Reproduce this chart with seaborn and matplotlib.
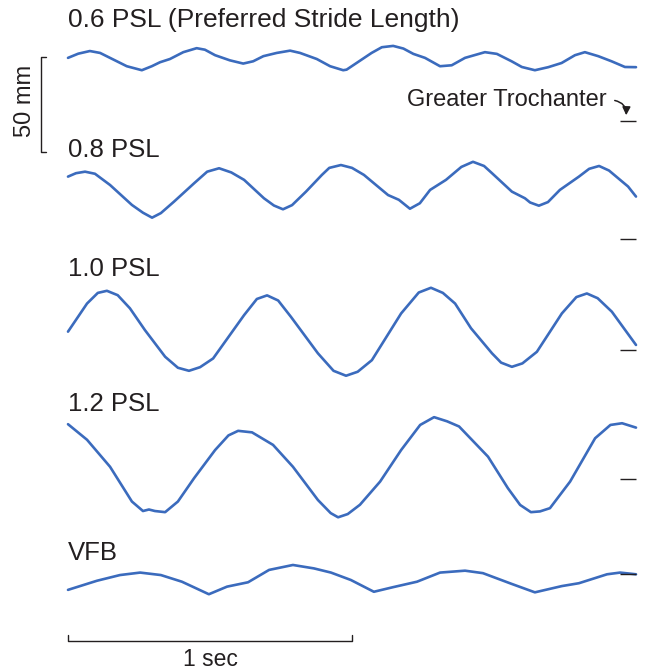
import numpy as np
import pandas as pd
import matplotlib
matplotlib.use("Agg")
import matplotlib.pyplot as plt
import seaborn as sns

# vertical displacement (mm) relative to each trace's reference tick, time in sec
t_06 = [0.0, 0.036, 0.077, 0.113, 0.160, 0.207, 0.260, 0.295, 0.324, 0.359, 0.406,
        0.453, 0.482, 0.518, 0.570, 0.617, 0.652, 0.688, 0.735, 0.782, 0.817, 0.876,
        0.923, 0.969, 0.981, 1.022, 1.069, 1.105, 1.145, 1.181, 1.216, 1.257, 1.310,
        1.351, 1.398, 1.468, 1.510, 1.562, 1.598, 1.644, 1.691, 1.738, 1.785, 1.820,
        1.867, 1.914, 1.961, 2.0]
d_06 = [33.2, 35.4, 36.8, 35.8, 32.3, 28.8, 26.7, 28.8, 30.9, 32.6, 36.2,
        38.3, 37.5, 34.6, 31.9, 30.2, 31.4, 34.1, 35.8, 37.0, 35.8, 32.6,
        28.8, 26.7, 27.0, 31.1, 35.8, 38.8, 39.5, 38.1, 35.3, 33.2, 28.8,
        29.3, 33.2, 36.2, 35.3, 31.4, 28.4, 26.7, 28.3, 30.5, 34.6, 36.2,
        34.1, 31.4, 28.4, 28.3]

t_08 = [0.0, 0.028, 0.060, 0.095, 0.148, 0.225, 0.264, 0.296, 0.327, 0.373, 0.444,
        0.490, 0.532, 0.575, 0.620, 0.690, 0.725, 0.757, 0.789, 0.838, 0.894, 0.920,
        0.961, 1.000, 1.042, 1.127, 1.165, 1.204, 1.239, 1.275, 1.331, 1.385, 1.426,
        1.465, 1.493, 1.563, 1.609, 1.627, 1.658, 1.690, 1.732, 1.799, 1.835, 1.870,
        1.905, 1.944, 1.972, 2.0]
d_08 = [32.8, 34.6, 35.4, 34.3, 28.4, 17.9, 13.8, 11.2, 13.6, 19.6, 29.3,
        35.4, 37.2, 35.0, 31.1, 21.4, 17.6, 15.6, 17.8, 24.9, 33.7, 37.4,
        38.9, 37.4, 33.7, 23.1, 20.6, 15.9, 18.8, 25.8, 31.1, 37.9, 40.6,
        38.4, 34.6, 24.9, 21.4, 19.2, 17.5, 19.4, 25.8, 32.8, 36.9, 38.4,
        36.0, 31.1, 27.6, 22.3]

t_10 = [0.0, 0.067, 0.105, 0.137, 0.175, 0.218, 0.271, 0.342, 0.387, 0.426, 0.465,
        0.511, 0.620, 0.665, 0.701, 0.740, 0.785, 0.880, 0.935, 0.979, 1.020, 1.070,
        1.173, 1.235, 1.278, 1.320, 1.363, 1.419, 1.493, 1.525, 1.563, 1.600, 1.651,
        1.739, 1.790, 1.827, 1.865, 1.915, 2.0]
d_10 = [9.7, 24.5, 30.1, 31.2, 28.9, 22.0, 10.5, -3.5, -9.3, -10.9, -9.0,
        -4.4, 18.4, 26.9, 28.8, 26.1, 17.5, -1.7, -10.9, -13.5, -11.4, -5.3,
        19.3, 30.3, 32.8, 30.1, 24.5, 11.5, -1.7, -6.6, -8.8, -7.0, -0.9,
        19.3, 27.9, 29.8, 27.3, 20.2, 2.7]

t_12 = [0.0, 0.067, 0.148, 0.225, 0.264, 0.285, 0.306, 0.342, 0.387, 0.444, 0.518,
        0.565, 0.599, 0.648, 0.722, 0.792, 0.880, 0.925, 0.951, 0.985, 1.028, 1.099,
        1.173, 1.240, 1.289, 1.335, 1.377, 1.479, 1.549, 1.592, 1.630, 1.662, 1.697,
        1.768, 1.856, 1.910, 1.951, 2.0]
d_12 = [28.8, 20.6, 6.4, -11.9, -16.9, -16.1, -16.9, -17.5, -11.9, 0.4, 15.2,
        22.9, 25.3, 24.5, 17.9, 6.4, -11.1, -18.0, -20.2, -18.5, -13.6, -1.4,
        15.2, 28.4, 32.5, 30.3, 27.6, 11.7, -4.9, -13.7, -17.5, -17.1, -15.4,
        -1.4, 21.4, 28.4, 29.3, 27.0]

t_vfb = [0.0, 0.102, 0.183, 0.254, 0.327, 0.401, 0.496, 0.560, 0.634, 0.708, 0.792,
         0.866, 0.926, 0.996, 1.077, 1.144, 1.229, 1.310, 1.398, 1.461, 1.563, 1.644,
         1.739, 1.799, 1.898, 1.944, 2.0]
d_vfb = [-8.2, -3.4, -0.4, 0.9, -0.4, -3.9, -10.5, -6.5, -4.2, 2.3, 4.9,
         3.1, 0.9, -3.0, -9.2, -6.8, -3.9, 0.9, 1.9, 0.6, -5.1, -9.5,
         -6.2, -4.7, 0.0, 0.9, 0.0]

labels = ["0.6 PSL (Preferred Stride Length)", "0.8 PSL", "1.0 PSL", "1.2 PSL", "VFB"]
baseline_mm = [289.5, 227.4, 168.9, 101.1, 50.9]   # height of each reference tick

traces = [(t_06, d_06), (t_08, d_08), (t_10, d_10), (t_12, d_12), (t_vfb, d_vfb)]

rows = []
for name, base, (tt, dd) in zip(labels, baseline_mm, traces):
    for a, b in zip(tt, dd):
        rows.append({"trace": name, "time": a, "y": base + b})
df = pd.DataFrame(rows)

sns.set_theme(style="white")
plt.rcParams["font.family"] = ["Liberation Sans", "DejaVu Sans"]

W, H = 646, 671
fig = plt.figure(figsize=(W / 100, H / 100), dpi=100)
ax = fig.add_axes([0, 0, 1, 1])

# layout helpers: 1 sec = 284 px, 50 mm = 95 px
def tx(px):
    return (px - 68) / 284.0

def my(py):
    return (H - py) / 1.9

ax.set_xlim(tx(0), tx(W))
ax.set_ylim(my(H), my(0))

blue = "#3b6bbd"
sns.lineplot(data=df, x="time", y="y", units="trace", estimator=None,
             color=blue, linewidth=1.9, ax=ax, sort=False)

txt = "#231f20"
label_base_px = [27, 157, 276, 411, 560]
label_size = [19, 18.5, 18.5, 18.5, 18.5]
for name, base, lb, fs in zip(labels, baseline_mm, label_base_px, label_size):
    ax.text(0, my(lb), name, fontsize=fs, color=txt, ha="left", va="baseline")
    ax.plot([1.944, 2.0], [base, base], color=txt, lw=1.0, solid_capstyle="butt")

# scale bars
ax.plot([0, 0, 1, 1], [my(635), my(641), my(641), my(635)], color=txt, lw=1.0)
ax.text(0.5, my(666), "1 sec", fontsize=16.5, color=txt, ha="center", va="baseline")
ax.plot([tx(46), tx(41), tx(41), tx(46)], [my(57), my(57), my(152), my(152)], color=txt, lw=1.0)
ax.text(tx(25), my(101), "50 mm", fontsize=17, color=txt, rotation=90, ha="center", va="center")

ax.text(tx(407), my(106), "Greater Trochanter", fontsize=17, color=txt, ha="left", va="baseline")
ax.annotate("", xy=(tx(626), my(118)), xytext=(tx(612), my(100)),
            arrowprops=dict(arrowstyle="-|>", color=txt, lw=1.1, mutation_scale=12,
                            connectionstyle="arc3,rad=-0.5"))

ax.set_axis_off()
fig.savefig("out.png", dpi=100)
